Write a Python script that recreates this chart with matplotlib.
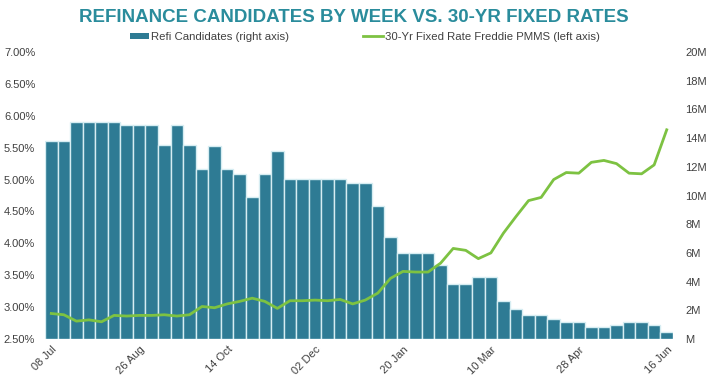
import matplotlib
matplotlib.use("Agg")
import matplotlib.pyplot as plt
import numpy as np
from matplotlib.ticker import FuncFormatter
from matplotlib.patches import Patch
from matplotlib.lines import Line2D

plt.rcParams['font.family'] = ['Liberation Sans', 'DejaVu Sans']

weeks = ["08 Jul", "15 Jul", "22 Jul", "29 Jul", "05 Aug", "12 Aug", "19 Aug", "26 Aug",
         "02 Sep", "09 Sep", "16 Sep", "23 Sep", "30 Sep", "07 Oct", "14 Oct", "21 Oct",
         "28 Oct", "04 Nov", "11 Nov", "18 Nov", "25 Nov", "02 Dec", "09 Dec", "16 Dec",
         "23 Dec", "30 Dec", "06 Jan", "13 Jan", "20 Jan", "27 Jan", "03 Feb", "10 Feb",
         "17 Feb", "24 Feb", "03 Mar", "10 Mar", "17 Mar", "24 Mar", "31 Mar", "07 Apr",
         "14 Apr", "21 Apr", "28 Apr", "05 May", "12 May", "19 May", "26 May", "02 Jun",
         "09 Jun", "16 Jun"]

refi_candidates_m = [13.82, 13.82, 15.14, 15.14, 15.14, 15.14, 14.91, 14.91, 14.91, 13.54,
                     14.91, 13.52, 11.82, 13.45, 11.82, 11.50, 9.87, 11.50, 13.12, 11.15,
                     11.15, 11.15, 11.15, 11.15, 10.85, 10.85, 9.29, 7.13, 5.97, 5.97,
                     5.97, 5.16, 3.81, 3.81, 4.34, 4.34, 2.65, 2.09, 1.67, 1.67,
                     1.37, 1.21, 1.21, 0.86, 0.86, 0.98, 1.21, 1.21, 0.98, 0.51]

fixed_rate_pct = [2.90, 2.88, 2.78, 2.80, 2.77, 2.87, 2.86, 2.87, 2.87, 2.88,
                  2.86, 2.88, 3.01, 2.99, 3.05, 3.09, 3.14, 3.09, 2.98, 3.10,
                  3.10, 3.11, 3.10, 3.12, 3.05, 3.11, 3.22, 3.45, 3.56, 3.55,
                  3.55, 3.69, 3.92, 3.89, 3.76, 3.85, 4.16, 4.42, 4.67, 4.72,
                  5.00, 5.11, 5.10, 5.27, 5.30, 5.25, 5.10, 5.09, 5.23, 5.78]

tick_idx = [0, 7, 14, 21, 28, 35, 42, 49]

title = "REFINANCE CANDIDATES BY WEEK VS. 30-YR FIXED RATES"
bar_label = "Refi Candidates (right axis)"
line_label = "30-Yr Fixed Rate Freddie PMMS (left axis)"

BAR_C = "#2E7B94"
EDGE_C = "#D6EDF2"
LINE_C = "#7DC242"
TXT_C = "#404040"
TITLE_C = "#2A8C9C"

W, H = 708, 379
fig = plt.figure(figsize=(W / 100, H / 100), dpi=100)
ax = fig.add_axes([45 / W, 1 - 339 / H, (673 - 45) / W, (339 - 52) / H])
ax2 = ax.twinx()

x = np.arange(len(weeks))
ax2.bar(x, refi_candidates_m, width=1.0, color=BAR_C, edgecolor=EDGE_C, linewidth=1.0, zorder=1)
ax2.set_ylim(0, 20)
ax2.set_yticks(np.arange(0, 21, 2))
ax2.yaxis.set_major_formatter(FuncFormatter(lambda v, p: "M" if v == 0 else f"{int(v)}M"))

ax.plot(x, fixed_rate_pct, color=LINE_C, linewidth=2.0, zorder=5)
ax.set_ylim(2.5, 7.0)
ax.set_yticks(np.arange(2.5, 7.01, 0.5))
ax.yaxis.set_major_formatter(FuncFormatter(lambda v, p: f"{v:.2f}%"))
ax.set_xlim(-0.5, len(weeks) - 0.5)
ax.set_xticks(tick_idx)
ax.set_xticklabels([weeks[i] for i in tick_idx], rotation=45, ha="right",
                   rotation_mode="anchor")

ax.set_zorder(ax2.get_zorder() + 1)
ax.patch.set_visible(False)

for a in (ax, ax2):
    for s in a.spines.values():
        s.set_visible(False)
    a.tick_params(length=0, labelsize=8, labelcolor=TXT_C)
ax.tick_params(axis="y", pad=7)
ax2.tick_params(axis="y", pad=9)
ax.tick_params(axis="x", pad=4)

fig.text(0.5, 1 - 17 / H, title, ha="center", va="center", fontsize=13.5,
         fontweight="bold", color=TITLE_C)

handles = [Patch(facecolor=BAR_C, edgecolor="none"), Line2D([0], [0], color=LINE_C, lw=2)]
fig.legend(handles, [bar_label, line_label], loc="center", bbox_to_anchor=(0.515, 1 - 37 / H),
           ncol=2, frameon=False, fontsize=8.2, handlelength=1.7, handleheight=0.5,
           handletextpad=0.2, columnspacing=6.5, labelcolor=TXT_C)

fig.savefig("out.png", dpi=100)
